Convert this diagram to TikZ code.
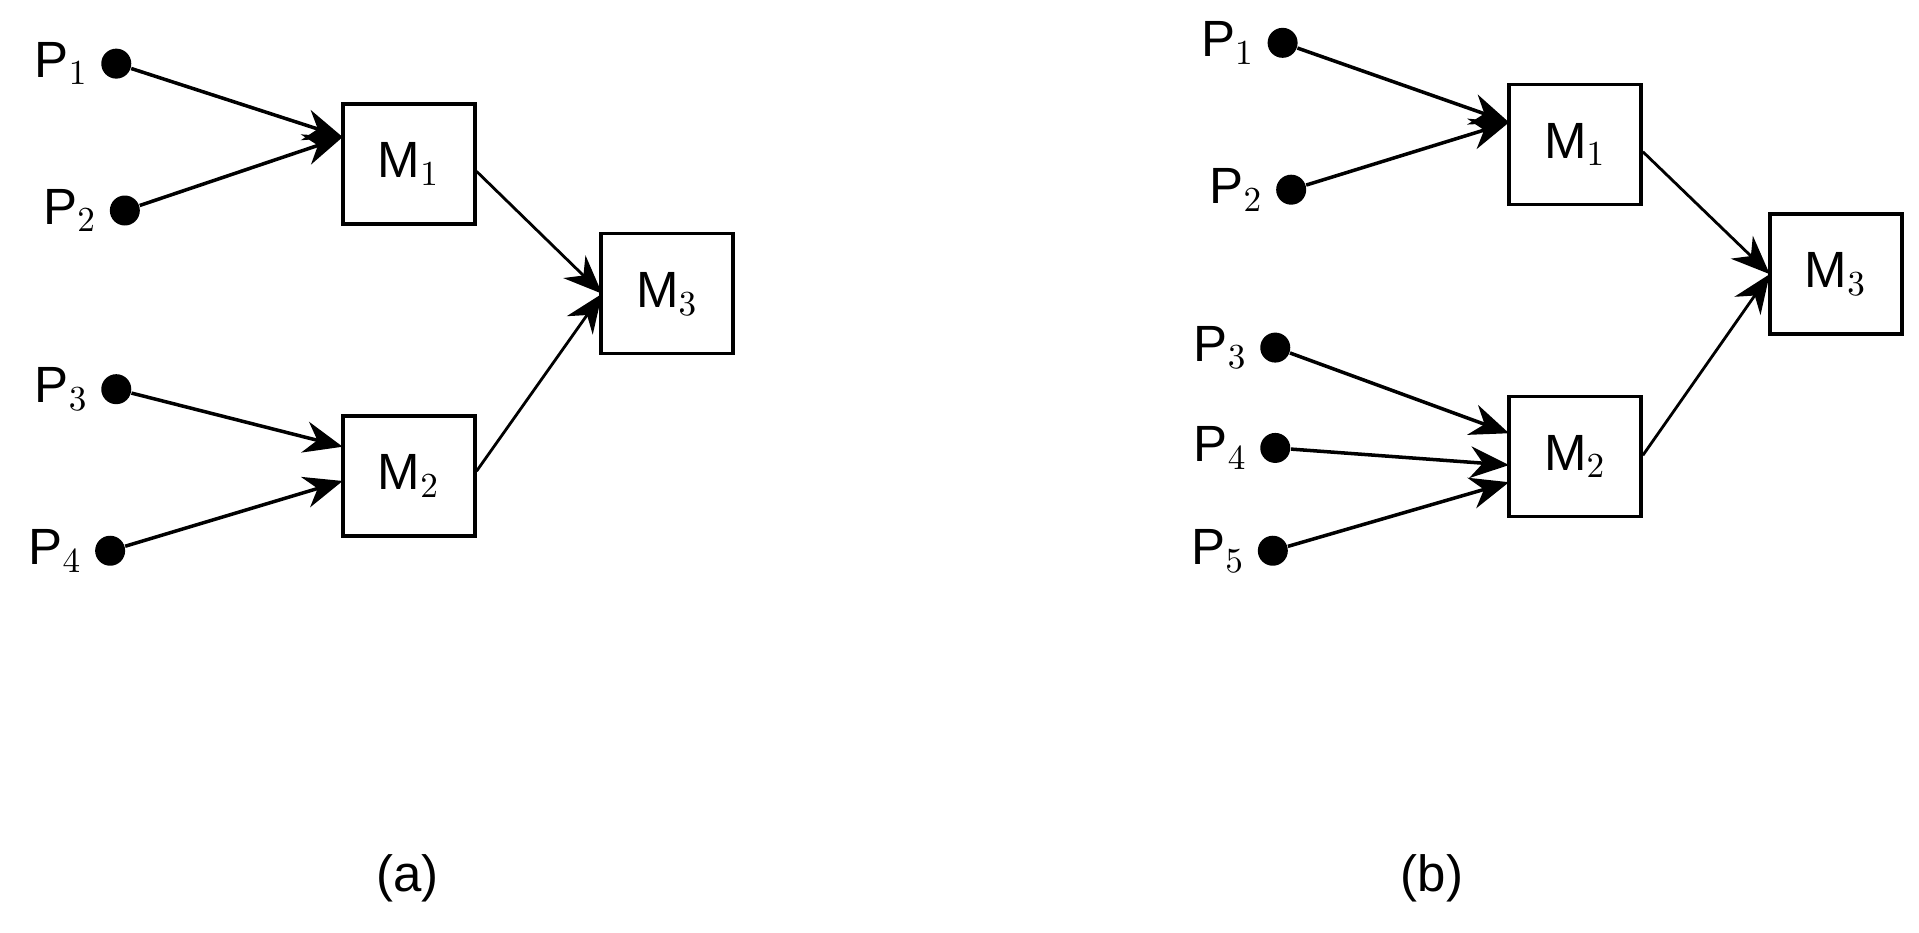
\documentclass[tikz,border=0pt]{standalone}
\usepackage{fontspec}
\setmainfont{Liberation Sans}
\usetikzlibrary{arrows.meta}
\tikzset{
    pin/.style={circle, fill=black, inner sep=0pt, minimum size=0.3cm},
    mod/.style={draw, line width=1pt, minimum width=1.32cm, minimum height=1.2cm, font=\fontsize{14.5}{17}\selectfont},
    lbl/.style={font=\fontsize{14.5}{17}\selectfont},
    edge/.style={line width=1pt, -{Stealth[length=11pt,width=9pt]}},
    thin edge/.style={line width=0.8pt, -{Stealth[length=11pt,width=9pt]}}
}
\begin{document}
\begin{tikzpicture}[x=0.01224cm, y=-0.01224cm]
        \useasboundingbox (0,0) rectangle (1568,762);
        \begin{scope}
            % (a)
            \node[pin] (a1) at (95,52) {};
            \node[pin] (a2) at (102,172) {};
            \node[pin] (a3) at (95,318) {};
            \node[pin] (a4) at (90,450) {};
            \node[lbl, left] at (a1.west) {P$_1$};
            \node[lbl, left] at (a2.west) {P$_2$};
            \node[lbl, left] at (a3.west) {P$_3$};
            \node[lbl, left] at (a4.west) {P$_4$};

            \node[mod] (am1) at (334,134) {M$_1$};
            \node[mod] (am2) at (334,389) {M$_2$};
            \node[mod] (am3) at (545,240) {M$_3$};

            \coordinate (am1in) at (280,112);
            \coordinate (am2a) at (280,365);
            \coordinate (am2b) at (280,393);
            \coordinate (am3in) at (492,240);

            \draw[edge] (a1) -- (am1in);
            \draw[edge] (a2) -- (am1in);
            \draw[edge] (a3) -- (am2a);
            \draw[edge] (a4) -- (am2b);
            \draw[thin edge] (am1.east |- 0,140) -- (am3in);
            \draw[thin edge] (am2.east |- 0,385) -- (am3in);

            \node[lbl] (capa) at (333,718) {(a)};
        \end{scope}
        \begin{scope}
            % (b)
            \node[pin] (b1) at (1048,35) {};
            \node[pin] (b2) at (1055,155) {};
            \node[pin] (b3) at (1042,284) {};
            \node[pin] (b4) at (1042,366) {};
            \node[pin] (b5) at (1040,450) {};
            \node[lbl, left] at (b1.west) {P$_1$};
            \node[lbl, left] at (b2.west) {P$_2$};
            \node[lbl, left] at (b3.west) {P$_3$};
            \node[lbl, left] at (b4.west) {P$_4$};
            \node[lbl, left] at (b5.west) {P$_5$};

            \node[mod] (bm1) at (1287,118) {M$_1$};
            \node[mod] (bm2) at (1287,373) {M$_2$};
            \node[mod] (bm3) at (1500,224) {M$_3$};

            \coordinate (bm1in) at (1233,100);
            \coordinate (bm2a) at (1233,354);
            \coordinate (bm2b) at (1233,380);
            \coordinate (bm2c) at (1233,394);
            \coordinate (bm3in) at (1446,224);

            \draw[edge] (b1) -- (bm1in);
            \draw[edge] (b2) -- (bm1in);
            \draw[edge] (b3) -- (bm2a);
            \draw[edge] (b4) -- (bm2b);
            \draw[edge] (b5) -- (bm2c);
            \draw[thin edge] (bm1.east |- 0,124) -- (bm3in);
            \draw[thin edge] (bm2.east |- 0,372) -- (bm3in);

            \node[lbl] (capb) at (1170,718) {(b)};
        \end{scope}
    \end{tikzpicture}
\end{document}
